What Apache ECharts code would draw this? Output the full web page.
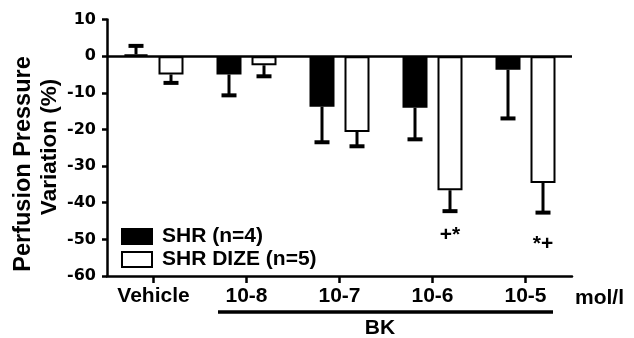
<!DOCTYPE html>
<html>
<head>
<meta charset="utf-8">
<script src="https://cdn.jsdelivr.net/npm/echarts@6/dist/echarts.min.js"></script>
<style>
html,body{margin:0;padding:0;background:#fff;}
#c{width:634px;height:338px;}
</style>
</head>
<body>
<div id="c"></div>
<script>
var categories = ['Vehicle', '10-8', '10-7', '10-6', '10-5'];
var shrMean = [0.5, -5.0, -13.8, -14.1, -3.7];
var shrSem = [2.3, 5.7, 9.7, 8.6, 13.3];
var dizeMean = [-5.0, -2.5, -20.7, -36.6, -34.6];
var dizeSem = [2.3, 3.0, 3.9, 5.7, 8.1];
var dizeMarks = ['', '', '', '+*', '*+'];
var dizeMarkY = [null, null, null, -48.8, -51.3];
var yTicks = [-60, -50, -40, -30, -20, -10, 0, 10];
var seriesNames = ['SHR (n=4)', 'SHR DIZE (n=5)'];

var FONT = '"Liberation Sans", Arial, sans-serif';
var chart = echarts.init(document.getElementById('c'));

function errData(mean, sem) {
  return mean.map(function (m, i) {
    var s = m >= 0 ? 1 : -1;
    return [i, m, m + s * sem[i]];
  });
}

function errRender(offset) {
  return function (params, api) {
    var i = api.value(0);
    var p0 = api.coord([i, api.value(1)]);
    var p1 = api.coord([i, api.value(2)]);
    var x = p0[0] + offset;
    return {
      type: 'group',
      children: [
        { type: 'line', shape: { x1: x, y1: p0[1], x2: x, y2: p1[1] },
          style: { stroke: '#000', lineWidth: 3 } },
        { type: 'line', shape: { x1: x - 7.5, y1: p1[1], x2: x + 7.5, y2: p1[1] },
          style: { stroke: '#000', lineWidth: 4 } }
      ]
    };
  };
}

var markData = dizeMarks.map(function (t, i) { return [i, dizeMarkY[i], t]; })
  .filter(function (d) { return d[2] !== ''; });

chart.setOption({
  animation: false,
  backgroundColor: '#fff',
  grid: { left: 107, right: 62, top: 19.5, bottom: 62 },
  legend: {
    data: seriesNames,
    orient: 'vertical',
    left: 116, top: 221,
    itemWidth: 30, itemHeight: 15, itemGap: 2,
    icon: 'rect',
    textStyle: { fontFamily: FONT, fontSize: 21, lineHeight: 15, fontWeight: 'bold', color: '#000', padding: [0, 0, 0, 5] }
  },
  xAxis: {
    type: 'category',
    data: categories,
    axisLine: { onZero: false, lineStyle: { color: '#000', width: 2.5 } },
    axisTick: { show: true, alignWithLabel: true, interval: 0, length: 7, lineStyle: { color: '#000', width: 2.5 } },
    axisLabel: { interval: 0, fontFamily: FONT, fontSize: 21, fontWeight: 'bold', color: '#000', margin: 10 }
  },
  yAxis: {
    type: 'value',
    min: yTicks[0], max: yTicks[yTicks.length - 1], interval: 10,
    axisLine: { show: true, lineStyle: { color: '#000', width: 2.5 } },
    axisTick: { show: true, length: 5, lineStyle: { color: '#000', width: 2.5 } },
    splitLine: { show: false },
    axisLabel: { fontFamily: 'DejaVu Sans', fontSize: 16, fontWeight: 'bold', color: '#000', margin: 11 }
  },
  series: [
    {
      name: seriesNames[0], type: 'bar', data: shrMean,
      barWidth: 25, barGap: '40%',
      itemStyle: { color: '#000', borderColor: '#000', borderWidth: 2 },
      markLine: {
        silent: true, symbol: 'none', label: { show: false },
        lineStyle: { color: '#000', width: 2.5, type: 'solid' },
        data: [{ yAxis: 0 }]
      },
      z: 2
    },
    {
      name: seriesNames[1], type: 'bar', data: dizeMean,
      barWidth: 25,
      itemStyle: { color: '#fff', borderColor: '#000', borderWidth: 2 },
      z: 2
    },
    {
      type: 'custom', renderItem: errRender(-17.5), data: errData(shrMean, shrSem),
      encode: { x: 0, y: [1, 2] }, z: 3, silent: true
    },
    {
      type: 'custom', renderItem: errRender(17.5), data: errData(dizeMean, dizeSem),
      encode: { x: 0, y: [1, 2] }, z: 3, silent: true
    },
    {
      type: 'custom', data: markData, encode: { x: 0, y: 1 }, silent: true, z: 4,
      renderItem: function (params, api) {
        var p = api.coord([api.value(0), api.value(1)]);
        return {
          type: 'text', x: p[0] + 17.5, y: p[1],
          style: { text: markData[params.dataIndex][2], fill: '#000',
            font: 'bold 21px ' + FONT, align: 'center', verticalAlign: 'middle' }
        };
      }
    }
  ],
  graphic: [
    { type: 'text', x: 24, y: 164, rotation: Math.PI / 2,
      style: { text: 'Perfusion Pressure', font: 'bold 23.5px ' + FONT, fill: '#000', align: 'center', verticalAlign: 'middle' } },
    { type: 'text', x: 50, y: 147, rotation: Math.PI / 2,
      style: { text: 'Variation (%)', font: 'bold 22.5px ' + FONT, fill: '#000', align: 'center', verticalAlign: 'middle' } },
    { type: 'text', x: 575, y: 298,
      style: { text: 'mol/l', font: 'bold 21px ' + FONT, fill: '#000', align: 'left', verticalAlign: 'middle' } },
    { type: 'line', shape: { x1: 218, y1: 312, x2: 553, y2: 312 },
      style: { stroke: '#000', lineWidth: 3.5 } },
    { type: 'text', x: 380, y: 328,
      style: { text: 'BK', font: 'bold 21px ' + FONT, fill: '#000', align: 'center', verticalAlign: 'middle' } }
  ]
});
</script>
</body>
</html>
